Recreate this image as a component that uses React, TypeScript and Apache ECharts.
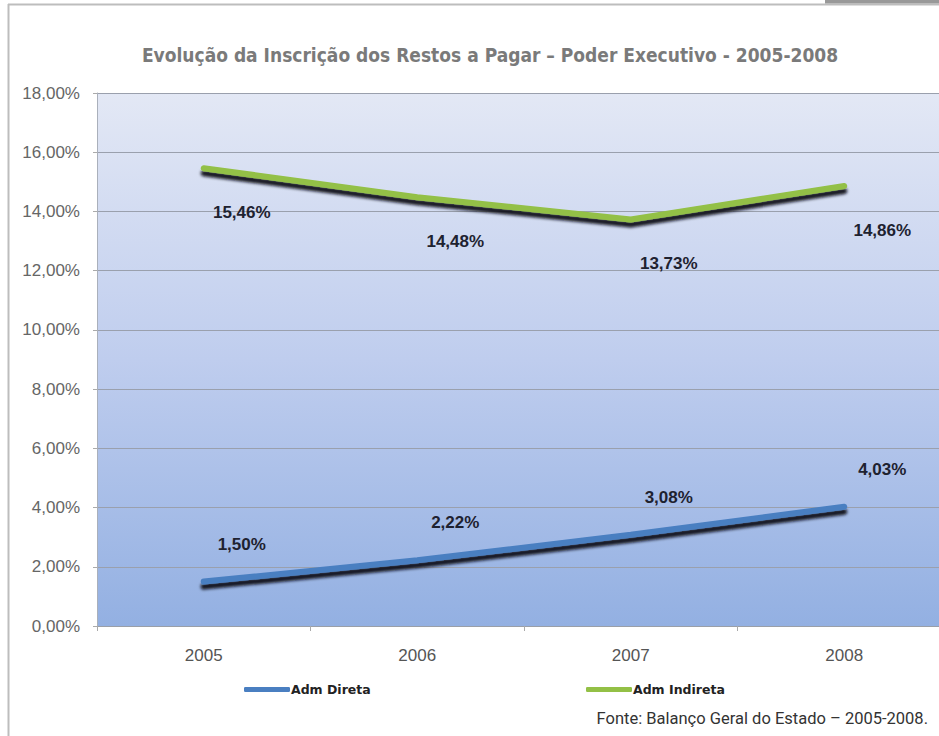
import React, { useEffect, useRef } from "react";
import * as echarts from "echarts";

const categories = ["2005", "2006", "2007", "2008"];
const admDireta = [1.5, 2.22, 3.08, 4.03];
const admIndireta = [15.46, 14.48, 13.73, 14.86];
const seriesNames = ["Adm Direta", "Adm Indireta"];
const titleText = "Evolução da Inscrição dos Restos a Pagar – Poder Executivo - 2005-2008";
const sourceText = "Fonte: Balanço Geral do Estado – 2005-2008.";

const fmt = (v: number) => v.toFixed(2).replace(".", ",") + "%";

export default function App() {
  const ref = useRef<HTMLDivElement>(null);
  useEffect(() => {
    if (!ref.current) return;
    const chart = echarts.init(ref.current, null, { renderer: "svg" });
    const shadow = {
      shadowColor: "rgba(10,10,20,0.95)",
      shadowBlur: 3,
      shadowOffsetX: 0,
      shadowOffsetY: 5,
    };
    const legendBase = {
      top: 678,
      itemWidth: 46,
      itemHeight: 5,
      itemGap: 0,
      icon: "roundRect",
      textStyle: {
        fontFamily: "DejaVu Sans",
        fontWeight: "bold",
        fontSize: 12.5,
        color: "#222",
        padding: [0, 0, 0, -4],
      },
    };
    const labelBase = {
      show: true,
      formatter: (p: any) => fmt(p.value),
      fontFamily: "Liberation Sans",
      fontWeight: "bold",
      fontSize: 17,
      color: "#1e2230",
    };
    chart.setOption({
      animation: false,
      backgroundColor: "#ffffff",
      title: {
        text: titleText,
        left: 485,
        top: 40,
        textAlign: "center",
        textStyle: {
          fontFamily: "DejaVu Sans Condensed",
          fontWeight: "bold",
          fontSize: 19,
          color: "#7a7a7a",
        },
      },
      legend: [
        { ...legendBase, left: 239, data: [seriesNames[0]] },
        { ...legendBase, left: 581, data: [seriesNames[1]] },
      ],
      grid: {
        left: 97,
        top: 93,
        width: 854,
        height: 533,
        show: true,
        borderWidth: 0,
        backgroundColor: new echarts.graphic.LinearGradient(0, 0, 0, 1, [
          { offset: 0, color: "#e3e8f5" },
          { offset: 0.5, color: "#bfcdee" },
          { offset: 1, color: "#93b0e2" },
        ]),
      },
      xAxis: {
        type: "category",
        data: categories,
        boundaryGap: true,
        axisLine: { show: true, lineStyle: { color: "#9a9fa8", width: 1 } },
        axisTick: { show: true, length: 5, lineStyle: { color: "#aaa" } },
        axisLabel: {
          margin: 21,
          fontFamily: "Liberation Sans",
          fontSize: 17,
          color: "#555",
        },
        splitLine: { show: false },
      },
      yAxis: {
        type: "value",
        min: 0,
        max: 18,
        interval: 2,
        axisLine: { show: true, lineStyle: { color: "#aab0bb", width: 1 } },
        axisTick: { show: true, length: 4, lineStyle: { color: "#aaa" } },
        axisLabel: {
          margin: 17,
          fontFamily: "Liberation Sans",
          fontSize: 17,
          color: "#666",
          formatter: (v: number) => fmt(v),
        },
        splitLine: { show: true, lineStyle: { color: "#9aa0ad", width: 1 } },
      },
      series: [
        {
          name: seriesNames[0],
          type: "line",
          data: admDireta,
          symbol: "circle",
          symbolSize: 0,
          showSymbol: true,
          color: "#4a7fc1",
          lineStyle: { width: 6, color: "#4a7fc1", cap: "round", ...shadow },
          label: { ...labelBase, position: "top", offset: [38, -24] },
        },
        {
          name: seriesNames[1],
          type: "line",
          data: admIndireta,
          symbol: "circle",
          symbolSize: 0,
          showSymbol: true,
          color: "#93c046",
          lineStyle: { width: 6, color: "#93c046", cap: "round", ...shadow },
          label: { ...labelBase, position: "bottom", offset: [38, 31] },
        },
      ],
      graphic: [
        {
          type: "line",
          shape: { x1: 8, y1: 4.5, x2: 960, y2: 4.5 },
          style: { stroke: "#bdbdbd", lineWidth: 2 },
        },
        {
          type: "line",
          shape: { x1: 8.5, y1: 4, x2: 8.5, y2: 736 },
          style: { stroke: "#bdbdbd", lineWidth: 2 },
        },
        {
          type: "rect",
          shape: { x: 825, y: 0, width: 135, height: 3.5 },
          style: { fill: "#999999" },
        },
        {
          type: "text",
          x: 928,
          y: 710,
          style: {
            text: sourceText,
            align: "right",
            fontFamily: "Roboto",
            fontSize: 16.5,
            fill: "#333",
          },
        },
      ],
    });
    return () => chart.dispose();
  }, []);
  return (
    <div
      style={{
        position: "fixed",
        left: 0,
        top: 0,
        width: 939,
        height: 736,
        overflow: "hidden",
        background: "#fff",
      }}
    >
      <div ref={ref} style={{ width: 960, height: 736 }} />
    </div>
  );
}
